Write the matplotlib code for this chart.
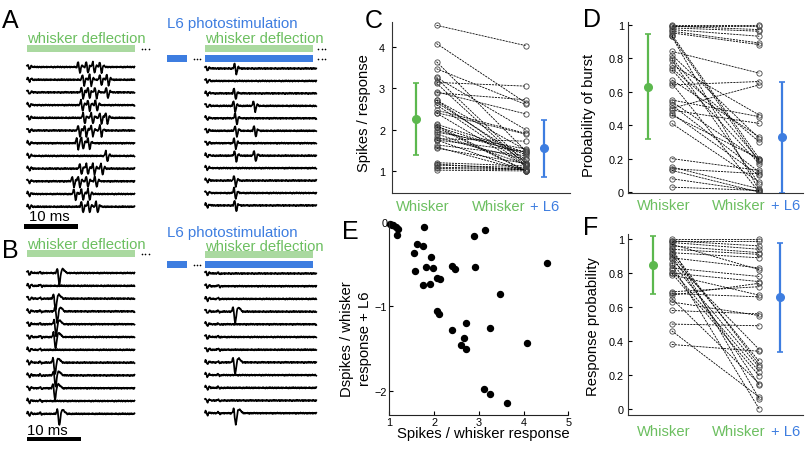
import numpy as np
import matplotlib
matplotlib.use('Agg')
import matplotlib.pyplot as plt
from matplotlib.patches import Rectangle

plt.rcParams['font.family'] = ['Liberation Sans', 'DejaVu Sans']

# spike times (ms) per sweep
a_left_spikes = [
    [9.9, 11.4, 12.6, 13.9], [10.7, 12.0, 13.9, 15.2], [10.5, 11.7, 13.0, 15.1],
    [10.4, 11.7, 13.1], [10.8, 12.3, 13.9, 15.0], [9.9, 11.1, 12.3, 13.9],
    [9.6, 10.5, 11.7], [15.0], [10.2, 11.4, 12.6, 14.1],
    [8.8, 9.9, 11.4, 13.0], [9.1, 10.5, 11.7], [10.5, 11.7, 13.2],
]
a_right_spikes = [[5.9], [], [5.8], [5.7, 9.4], [6.0], [6.0, 9.5],
                  [5.8], [5.9, 9.5], [], [5.8], [5.8], [5.9]]
b_left_spikes = [[6.4], [], [5.7], [6.0], [5.8], [5.7],
                 [], [5.6], [5.7], [5.6], [], [6.4]]
b_right_spikes = [[], [], [], [6.0], [], [], [], [6.0], [], [], [], [6.1]]

# waveform shapes in pixels (up = positive), 0.1 ms samples
small_spike = np.array([0, 1.5, 4.0, 5.0, 1.5, -3.5, -6.0, -4.5, -1.5, 1.0, 1.5, 1.0, 0.5, 0])
big_spike = np.array([0, 1, 3, 4.5, 2, -4, -9, -11.5, -9, -4, 0, 2.5, 3.5, 4, 3.8, 3.2,
                      2.6, 2.0, 1.5, 1.0, 0.5, 0])
onset = np.array([1.0, 2.0, 1.5, 0.0, -1.5, -1.8, -0.8, 0.4, 1.0, 0.8, 0.4, 0.0])
b_bump = np.array([0, 0.6, 1.3, 1.0, 0.2, -0.6, -0.9, -0.4, 0])
noise = np.array([0.4, -0.3, 0.6, 0.1, -0.5, 0.2, -0.7, 0.3, 0.5, -0.2, -0.6, 0.4, 0.0,
                  -0.4, 0.7, -0.1, 0.3, -0.5, 0.2, 0.6, -0.3, -0.6, 0.1, 0.5, -0.2, 0.3,
                  -0.7, 0.4, 0.2, -0.4, 0.6, -0.1, -0.5, 0.3, 0.1, -0.3, 0.5, -0.6, 0.2,
                  0.4, -0.2, 0.0, -0.4])

# C / E: spikes per response (whisker) and change with L6
spk_whisker = [1.02, 1.06, 1.09, 1.14, 1.20, 1.17, 1.78, 1.63, 1.75, 1.55, 1.94, 1.81,
               1.98, 1.58, 2.41, 2.47, 2.91, 2.89, 4.52, 2.07, 2.13, 1.75, 1.90, 3.47,
               2.06, 2.10, 2.71, 2.40, 3.26, 2.66, 2.60, 2.71, 4.08, 3.12, 3.24, 3.64, 3.14]
spk_delta = [-0.02, -0.03, -0.04, -0.06, -0.08, -0.15, -0.06, -0.26, -0.28, -0.37, -0.41,
             -0.53, -0.54, -0.58, -0.52, -0.56, -0.53, -0.17, -0.49, -0.67, -0.68, -0.75,
             -0.74, -0.86, -1.06, -1.09, -1.20, -1.28, -1.26, -1.38, -1.46, -1.51, -1.43,
             -1.98, -2.04, -2.15, -0.09]
spk_l6 = [w + d for w, d in zip(spk_whisker, spk_delta)]

# D: probability of burst
burst_whisker = [1.00, 0.99, 0.99, 0.98, 0.97, 0.96, 0.95, 0.94, 0.93, 0.93, 0.84, 0.82,
                 0.80, 0.79, 0.76, 0.74, 0.73, 0.67, 0.65, 0.64, 0.55, 0.54, 0.52, 0.50,
                 0.49, 0.47, 0.46, 0.41, 0.20, 0.15, 0.14, 0.13, 0.08, 0.03]
burst_l6 = [1.00, 0.99, 0.97, 0.96, 0.93, 0.89, 0.88, 0.20, 0.18, 0.01, 0.71, 0.32,
            0.19, 0.05, 0.46, 0.30, 0.17, 0.33, 0.00, 0.66, 0.45, 0.19, 0.12, 0.64,
            0.41, 0.10, 0.20, 0.06, 0.13, 0.02, 0.11, 0.00, 0.005, 0.01]

# F: response probability
resp_whisker = [1.00, 0.99, 0.99, 0.98, 0.96, 0.95, 0.94, 0.93, 0.92, 0.90, 0.89, 0.88,
                0.85, 0.83, 0.82, 0.80, 0.79, 0.69, 0.68, 0.67, 0.65, 0.63, 0.58, 0.50,
                0.46, 0.38, 0.97, 0.91, 0.86, 0.80]
resp_l6 = [1.00, 0.99, 0.96, 0.94, 0.92, 0.06, 0.91, 0.26, 0.89, 0.14, 0.83, 0.35,
           0.00, 0.78, 0.22, 0.75, 0.67, 0.72, 0.66, 0.74, 0.15, 0.55, 0.56, 0.49,
           0.07, 0.34, 0.82, 0.28, 0.245, 0.195]

# mean +/- SD
stats_c = [(2.25, 0.87), (1.55, 0.69)]
stats_d = [(0.63, 0.315), (0.327, 0.331)]
stats_f = [(0.847, 0.172), (0.657, 0.32)]

GREEN_TXT = '#6cbf60'
GREEN_BAR = '#aad9a0'
GREEN_ERR = '#5cb84e'
BLUE = '#3d7de0'

W, H = 805, 452
fig = plt.figure(figsize=(8.05, 4.52), dpi=100)


def px_axes(x0, y0, x1, y1):
    return fig.add_axes([x0 / W, 1 - y1 / H, (x1 - x0) / W, (y1 - y0) / H])


def fig_text(x, y, s, **kw):
    fig.text(x / W, 1 - y / H, s, **kw)


DT = 0.1


def draw_traces(ax, spikes, y_first, y_step, dur, shape, bump=False):
    n = int(round(dur / DT))
    t = np.arange(n) * DT
    for i, row in enumerate(spikes):
        v = np.roll(np.resize(noise, n), 7 * i).astype(float)
        v[:len(onset)] += onset
        if bump:
            v[22:22 + len(b_bump)] += b_bump
        for s in row:
            k = int(round(s / DT)) - len(shape) // 2
            v[k:k + len(shape)] += shape
        ax.plot(t, y_first + i * y_step - v, color='k', lw=1.25, clip_on=False)


def block(x0, x1, y0, y1, dur):
    ax = px_axes(x0, y0, x1, y1)
    ax.set_xlim(0, dur)
    ax.set_ylim(y1, y0)
    ax.axis('off')
    return ax


def bar(ax, t0, t1, ytop, h, color):
    ax.add_patch(Rectangle((t0, ytop), t1 - t0, h, color=color, lw=0, clip_on=False))


def dots(ax, t, y):
    ax.plot([t - 0.6, t, t + 0.6], [y, y, y], 'o', color='k', ms=1.2, mew=0, clip_on=False)


# ---- A / B left (whisker only)
for (y0, y1, first, step, spikes, shape, bump, txt_y, bar_y, sb_txt, sb_y, sb_lw, sb_t0) in [
        (0, 232, 68, 12.7, a_left_spikes, small_spike, False, 43, 46, 221.5, 227.5, 5, -0.55),
        (226, 452, 274, 12.8, b_left_spikes, big_spike, True, 249, 251, 435, 440, 4, 0.0)]:
    ax = block(27, 135, y0, y1, 20)
    draw_traces(ax, spikes, first, step, 20, shape, bump)
    ax.text(0, txt_y, 'whisker deflection', color=GREEN_TXT, fontsize=10.7, va='baseline')
    bar(ax, 0, 20, bar_y, 6.5, GREEN_BAR)
    dots(ax, 21.9, bar_y + 3.5)
    ax.add_patch(Rectangle((sb_t0, sb_y - sb_lw / 2), 10, sb_lw, color='k', lw=0, clip_on=False))
    ax.text(sb_t0 + 0.9 if sb_t0 < 0 else 0, sb_txt, '10 ms', fontsize=10.7, va='baseline')

# ---- A / B right (L6 + whisker)
DUR_R = 112 / 5.4
for (y0, y1, first, step, spikes, shape, bump, l6_y, txt_y, g_y, b_y, tail) in [
        (0, 232, 69.5, 12.45, a_right_spikes, small_spike, False, 28, 43, 46, 56, True),
        (226, 452, 274.5, 12.7, b_right_spikes, big_spike, True, 237, 251, 252, 262, False)]:
    ax = block(205, 317, y0, y1, DUR_R)
    draw_traces(ax, spikes, first, step, DUR_R, shape, bump)
    ax.text(-7.05, l6_y, 'L6 photostimulation', color=BLUE, fontsize=10.8, va='baseline')
    ax.text(0, txt_y, 'whisker deflection', color=GREEN_TXT, fontsize=10.7, va='baseline')
    bar(ax, 0, 20, g_y, 6.5, GREEN_BAR)
    bar(ax, -7.0, -3.3, b_y, 6.5, BLUE)
    bar(ax, 0, 20, b_y, 6.5, BLUE)
    dots(ax, -1.5, b_y + 3.5)
    if tail:
        dots(ax, 21.6, g_y + 3.5)
        dots(ax, 21.6, b_y + 3.5)


# ---- paired panels
def paired(ax, before, after, stats, gx, bx, ylim, yticks, ylabels, pad, lab_y, lab_x):
    for b, a in zip(before, after):
        ax.plot([1, 3], [b, a], color='k', lw=0.6, ls=(0, (2.5, 1.2)), marker='o', ms=3.8,
                mfc='none', mec='#444444', mew=0.6)
    for (m, sd), x, c in [(stats[0], gx, GREEN_ERR), (stats[1], bx, BLUE)]:
        ax.errorbar(x, m, yerr=sd, fmt='o', color=c, ms=5.5, elinewidth=1.6, capsize=2.5,
                    capthick=1.2)
    ax.set_xlim(0, 4)
    ax.set_ylim(*ylim)
    ax.set_yticks(yticks)
    ax.set_yticklabels(ylabels)
    ax.set_xticks([])
    ax.spines[['top', 'right']].set_visible(False)
    for s in ['left', 'bottom']:
        ax.spines[s].set_color('#333333')
        ax.spines[s].set_linewidth(0.8)
    ax.tick_params(axis='y', direction='in', length=3, labelsize=7.8, pad=pad)
    tr = ax.get_xaxis_transform()
    ax.text(lab_x[0], lab_y, 'Whisker', color=GREEN_TXT, fontsize=10.6, ha='center',
            va='center', transform=tr)
    ax.text(lab_x[1], lab_y, 'Whisker', color=GREEN_TXT, fontsize=10.6, ha='right',
            va='center', transform=tr)
    ax.text(lab_x[2], lab_y, '+ L6', color=BLUE, fontsize=10.6, ha='left',
            va='center', transform=tr)


ax_c = px_axes(392, 23, 570, 194)
paired(ax_c, spk_whisker, spk_l6, stats_c, 0.53, 3.42, (0.467, 4.6), [1, 2, 3, 4],
       ['1', '2', '3', '4'], 5, -0.076, (0.70, 3.01, 3.10))

prob_ticks = [0, 0.2, 0.4, 0.6, 0.8, 1]
prob_labels = ['0', '0.2', '0.4', '0.6', '0.8', '1']
ax_d = px_axes(628, 23, 803, 194)
paired(ax_d, burst_whisker, burst_l6, stats_d, 0.45, 3.52, (-0.005, 1.015), prob_ticks,
       prob_labels, 3, -0.073, (0.82, 3.15, 3.27))

ax_f = px_axes(628, 235, 803, 416)
paired(ax_f, resp_whisker, resp_l6, stats_f, 0.58, 3.47, (-0.035, 1.03), prob_ticks,
       prob_labels, 3, -0.088, (0.82, 3.15, 3.27))

# ---- E scatter
ax_e = px_axes(389.3, 222, 568.3, 416)
ax_e.plot(spk_whisker, spk_delta, 'o', color='k', ms=4.3, clip_on=False)
ax_e.set_xlim(1, 5)
ax_e.set_ylim(-2.29, 0.012)
ax_e.set_xticks([1, 2, 3, 4, 5])
ax_e.set_yticks([-2, -1, 0])
ax_e.spines[['top', 'right']].set_visible(False)
for s in ['left', 'bottom']:
    ax_e.spines[s].set_color('#222222')
    ax_e.spines[s].set_linewidth(0.8)
ax_e.tick_params(direction='in', length=3, labelsize=7.8, pad=1.5)

# ---- axis labels
fig_text(363.5, 113.5, 'Spikes / response', rotation=90, fontsize=10.6, ha='center', va='center')
fig_text(589, 115, 'Probability of burst', rotation=90, fontsize=10.6, ha='center', va='center')
fig_text(592.5, 327, 'Response probability', rotation=90, fontsize=10.6, ha='center', va='center')
fig_text(356, 339, 'Dspikes / whisker\nresponse + L6', rotation=90, fontsize=10.7,
         ha='center', va='center', linespacing=1.3)
fig_text(483.5, 434, 'Spikes / whisker response', fontsize=10.7, ha='center', va='center')

# ---- panel letters
for letter, x, y in [('A', 2, 28), ('B', 2, 258), ('C', 365, 28), ('D', 583, 27),
                     ('E', 342, 239), ('F', 583, 235)]:
    fig_text(x, y, letter, fontsize=18, va='baseline')

fig.savefig('out.png', dpi=100)
